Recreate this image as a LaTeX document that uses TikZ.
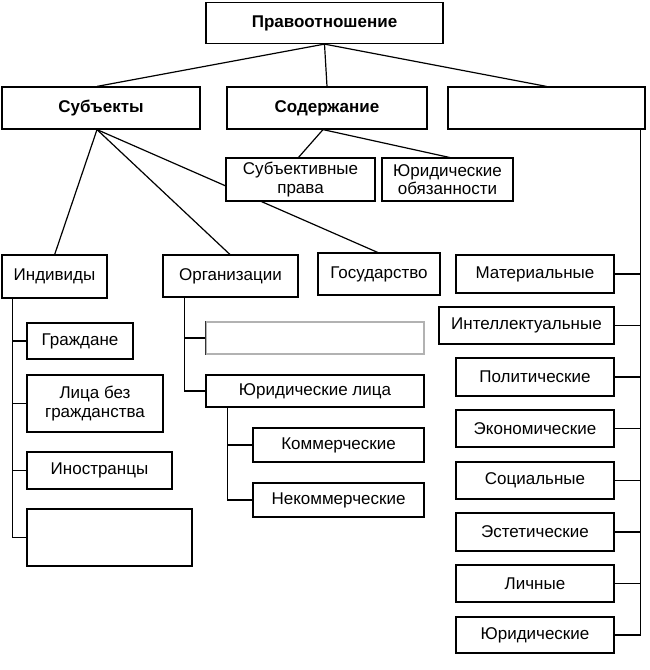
\documentclass[tikz,border=0pt]{standalone}
\usepackage{fontspec}
\setmainfont{Liberation Sans}
\usetikzlibrary{calc}
\begin{document}
\begin{tikzpicture}[x=1pt,y=-1pt,
  box/.style={draw, fill=white, line width=1.2pt, inner sep=0pt, align=center,
    font=\fontsize{17}{18.5}\selectfont},
  bbox/.style={box, font=\fontsize{17}{18.5}\selectfont\bfseries},
  ln/.style={line width=1.2pt}]
\useasboundingbox (0,0) rectangle (649,670);
\node[bbox, minimum width=237pt, minimum height=41pt] (top) at (324.5,23) {Правоотношение};
\node[bbox, minimum width=198pt, minimum height=42pt] (subj) at (101,108) {Субъекты};
\node[bbox, minimum width=200pt, minimum height=42pt] (sod) at (327,108) {Содержание};
\node[box, minimum width=197pt, minimum height=42pt] (rt) at (546.5,108) {};
\draw[ln] (top.south) -- ($(subj.north)+(-4,0)$);
\draw[ln] (top.south) -- (sod.north);
\draw[ln] (top.south) -- (rt.north);
\draw[ln] ($(subj.south)+(-4,0)$) coordinate (sj) -- (54.5,255) coordinate (indtop);
\draw[ln] (sj) -- (230.5,255) coordinate (orgtop);
\draw[ln] (sj) -- (379,253) coordinate (gostop);
\draw[ln] ($(sod.south)+(-4,0)$) coordinate (sd) -- (298,158) coordinate (sprtop);
\draw[ln] (sd) -- (452,158) coordinate (yuotop);
% second-level boxes
\node[box, minimum width=149pt, minimum height=43pt] (sprava) at (300.5,179.5) {Субъективные\\права};
\node[box, minimum width=131pt, minimum height=43pt] (yuob) at (447.5,179.5) {Юридические\\обязанности};
\node[box, minimum width=105pt, minimum height=43pt] (ind) at (54.5,276.5) {Индивиды};
\node[box, minimum width=135pt, minimum height=42pt] (org) at (230.5,276) {Организации};
\node[box, minimum width=122pt, minimum height=42pt] (gos) at (379,274) {Государство};
% individuals
\node[box, minimum width=106pt, minimum height=36pt] (grazh) at (80,341) {Граждане};
\node[box, minimum width=136pt, minimum height=57pt] (lbg) at (95,403.5) {Лица без\\гражданства};
\node[box, minimum width=145pt, minimum height=37pt] (inostr) at (99.5,470.5) {Иностранцы};
\node[box, minimum width=165pt, minimum height=57pt] (empt) at (109.5,537.5) {};
\draw[ln] ($(ind.south west)+(11,0)$) |- (grazh.west);
\draw[ln] ($(ind.south west)+(11,0)$) |- (lbg.west);
\draw[ln] ($(ind.south west)+(11,0)$) |- (inostr.west);
\draw[ln] ($(ind.south west)+(11,0)$) |- (empt.west);
% organisations
\node[box, draw=black!30, minimum width=218pt, minimum height=32pt] (faint) at (315,338) {};
\draw[ln, black!80] (faint.north west) -- (faint.south west);
\node[box, minimum width=218pt, minimum height=32pt] (yurl) at (315,391) {Юридические лица};
\node[box, minimum width=171pt, minimum height=34pt] (komm) at (338.5,445) {Коммерческие};
\node[box, minimum width=171pt, minimum height=34pt] (nekomm) at (338.5,500) {Некоммерческие};
\draw[ln] ($(org.south west)+(22,0)$) |- (faint.west);
\draw[ln] ($(org.south west)+(22,0)$) |- (yurl.west);
\draw[ln] ($(yurl.south west)+(22,0)$) |- (komm.west);
\draw[ln] ($(yurl.south west)+(22,0)$) |- (nekomm.west);
% right column
\node[box, minimum width=158pt, minimum height=38pt] (mat) at (535,274) {Материальные};
\node[box, minimum width=175pt, minimum height=37pt] (intel) at (526.5,325.5) {Интеллектуальные};
\node[box, minimum width=158pt, minimum height=38pt] (polit) at (535,377) {Политические};
\node[box, minimum width=158pt, minimum height=37pt] (ekon) at (535,428.5) {Экономические};
\node[box, minimum width=158pt, minimum height=37pt] (soc) at (535,480.5) {Социальные};
\node[box, minimum width=158pt, minimum height=38pt] (est) at (535,532) {Эстетические};
\node[box, minimum width=158pt, minimum height=37pt] (lich) at (535,583.5) {Личные};
\node[box, minimum width=158pt, minimum height=36pt] (yur) at (535,635) {Юридические};
\foreach \n in {mat,intel,polit,ekon,soc,est,lich,yur}
  \draw[ln] ($(rt.south east)+(-5,0)$) |- (\n.east);
\end{tikzpicture}
\end{document}
